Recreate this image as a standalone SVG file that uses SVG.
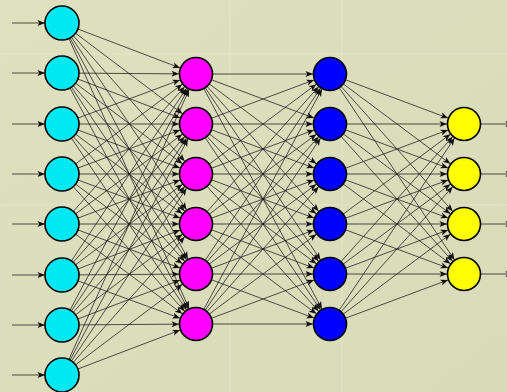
<svg xmlns="http://www.w3.org/2000/svg" width="507" height="392" viewBox="0 0 507 392">
<defs>
<marker id="ah" markerUnits="userSpaceOnUse" markerWidth="30" markerHeight="8" refX="24.5" refY="3" orient="auto" overflow="visible">
<path d="M0,0 L7.5,3 L0,6 L1.8,3 Z" fill="#111"/>
</marker>
<linearGradient id="bg" x1="0" y1="0" x2="1" y2="1">
<stop offset="0" stop-color="#dee0bf"/>
<stop offset="1" stop-color="#d8dbb8"/>
</linearGradient>
</defs>
<style>
.e{stroke:#1a1a1a;stroke-width:0.75;fill:none;marker-end:url(#ah)}
.n{stroke:#000;stroke-width:1.6}
.i{fill:#00e8f2}.h{fill:#ff00ff}.b{fill:#0000ff}.o{fill:#ffff00}
.g{stroke:#e4e6ca;stroke-width:2;opacity:0.45}
</style>
<rect width="507" height="392" fill="url(#bg)"/>
<g id="texture">
<line class="g" x1="0" y1="54" x2="507" y2="54"/>
<line class="g" x1="230" y1="0" x2="230" y2="392"/>
<line class="g" x1="342" y1="0" x2="342" y2="392"/>
<line class="g" x1="0" y1="205" x2="507" y2="205"/>
</g>
<g id="connectors">
<line class="e" x1="12" y1="23" x2="62" y2="23"/>
<line class="e" x1="12" y1="73" x2="62" y2="73"/>
<line class="e" x1="12" y1="124" x2="62" y2="124"/>
<line class="e" x1="12" y1="174" x2="62" y2="174"/>
<line class="e" x1="12" y1="224" x2="62" y2="224"/>
<line class="e" x1="12" y1="275" x2="62" y2="275"/>
<line class="e" x1="12" y1="325" x2="62" y2="325"/>
<line class="e" x1="12" y1="375" x2="62" y2="375"/>

<line class="e" x1="62" y1="23" x2="196" y2="74"/><line class="e" x1="62" y1="23" x2="196" y2="124"/><line class="e" x1="62" y1="23" x2="196" y2="174"/><line class="e" x1="62" y1="23" x2="196" y2="224"/><line class="e" x1="62" y1="23" x2="196" y2="274"/><line class="e" x1="62" y1="23" x2="196" y2="324"/>
<line class="e" x1="62" y1="73" x2="196" y2="74"/><line class="e" x1="62" y1="73" x2="196" y2="124"/><line class="e" x1="62" y1="73" x2="196" y2="174"/><line class="e" x1="62" y1="73" x2="196" y2="224"/><line class="e" x1="62" y1="73" x2="196" y2="274"/><line class="e" x1="62" y1="73" x2="196" y2="324"/>
<line class="e" x1="62" y1="124" x2="196" y2="74"/><line class="e" x1="62" y1="124" x2="196" y2="124"/><line class="e" x1="62" y1="124" x2="196" y2="174"/><line class="e" x1="62" y1="124" x2="196" y2="224"/><line class="e" x1="62" y1="124" x2="196" y2="274"/><line class="e" x1="62" y1="124" x2="196" y2="324"/>
<line class="e" x1="62" y1="174" x2="196" y2="74"/><line class="e" x1="62" y1="174" x2="196" y2="124"/><line class="e" x1="62" y1="174" x2="196" y2="174"/><line class="e" x1="62" y1="174" x2="196" y2="224"/><line class="e" x1="62" y1="174" x2="196" y2="274"/><line class="e" x1="62" y1="174" x2="196" y2="324"/>
<line class="e" x1="62" y1="224" x2="196" y2="74"/><line class="e" x1="62" y1="224" x2="196" y2="124"/><line class="e" x1="62" y1="224" x2="196" y2="174"/><line class="e" x1="62" y1="224" x2="196" y2="224"/><line class="e" x1="62" y1="224" x2="196" y2="274"/><line class="e" x1="62" y1="224" x2="196" y2="324"/>
<line class="e" x1="62" y1="275" x2="196" y2="74"/><line class="e" x1="62" y1="275" x2="196" y2="124"/><line class="e" x1="62" y1="275" x2="196" y2="174"/><line class="e" x1="62" y1="275" x2="196" y2="224"/><line class="e" x1="62" y1="275" x2="196" y2="274"/><line class="e" x1="62" y1="275" x2="196" y2="324"/>
<line class="e" x1="62" y1="325" x2="196" y2="74"/><line class="e" x1="62" y1="325" x2="196" y2="124"/><line class="e" x1="62" y1="325" x2="196" y2="174"/><line class="e" x1="62" y1="325" x2="196" y2="224"/><line class="e" x1="62" y1="325" x2="196" y2="274"/><line class="e" x1="62" y1="325" x2="196" y2="324"/>
<line class="e" x1="62" y1="375" x2="196" y2="74"/><line class="e" x1="62" y1="375" x2="196" y2="124"/><line class="e" x1="62" y1="375" x2="196" y2="174"/><line class="e" x1="62" y1="375" x2="196" y2="224"/><line class="e" x1="62" y1="375" x2="196" y2="274"/><line class="e" x1="62" y1="375" x2="196" y2="324"/>

<line class="e" x1="196" y1="74" x2="330" y2="74"/><line class="e" x1="196" y1="74" x2="330" y2="124"/><line class="e" x1="196" y1="74" x2="330" y2="174"/><line class="e" x1="196" y1="74" x2="330" y2="224"/><line class="e" x1="196" y1="74" x2="330" y2="274"/><line class="e" x1="196" y1="74" x2="330" y2="324"/>
<line class="e" x1="196" y1="124" x2="330" y2="74"/><line class="e" x1="196" y1="124" x2="330" y2="124"/><line class="e" x1="196" y1="124" x2="330" y2="174"/><line class="e" x1="196" y1="124" x2="330" y2="224"/><line class="e" x1="196" y1="124" x2="330" y2="274"/><line class="e" x1="196" y1="124" x2="330" y2="324"/>
<line class="e" x1="196" y1="174" x2="330" y2="74"/><line class="e" x1="196" y1="174" x2="330" y2="124"/><line class="e" x1="196" y1="174" x2="330" y2="174"/><line class="e" x1="196" y1="174" x2="330" y2="224"/><line class="e" x1="196" y1="174" x2="330" y2="274"/><line class="e" x1="196" y1="174" x2="330" y2="324"/>
<line class="e" x1="196" y1="224" x2="330" y2="74"/><line class="e" x1="196" y1="224" x2="330" y2="124"/><line class="e" x1="196" y1="224" x2="330" y2="174"/><line class="e" x1="196" y1="224" x2="330" y2="224"/><line class="e" x1="196" y1="224" x2="330" y2="274"/><line class="e" x1="196" y1="224" x2="330" y2="324"/>
<line class="e" x1="196" y1="274" x2="330" y2="74"/><line class="e" x1="196" y1="274" x2="330" y2="124"/><line class="e" x1="196" y1="274" x2="330" y2="174"/><line class="e" x1="196" y1="274" x2="330" y2="224"/><line class="e" x1="196" y1="274" x2="330" y2="274"/><line class="e" x1="196" y1="274" x2="330" y2="324"/>
<line class="e" x1="196" y1="324" x2="330" y2="74"/><line class="e" x1="196" y1="324" x2="330" y2="124"/><line class="e" x1="196" y1="324" x2="330" y2="174"/><line class="e" x1="196" y1="324" x2="330" y2="224"/><line class="e" x1="196" y1="324" x2="330" y2="274"/><line class="e" x1="196" y1="324" x2="330" y2="324"/>

<line class="e" x1="330" y1="74" x2="464" y2="124"/><line class="e" x1="330" y1="74" x2="464" y2="174"/><line class="e" x1="330" y1="74" x2="464" y2="224"/><line class="e" x1="330" y1="74" x2="464" y2="274"/>
<line class="e" x1="330" y1="124" x2="464" y2="124"/><line class="e" x1="330" y1="124" x2="464" y2="174"/><line class="e" x1="330" y1="124" x2="464" y2="224"/><line class="e" x1="330" y1="124" x2="464" y2="274"/>
<line class="e" x1="330" y1="174" x2="464" y2="124"/><line class="e" x1="330" y1="174" x2="464" y2="174"/><line class="e" x1="330" y1="174" x2="464" y2="224"/><line class="e" x1="330" y1="174" x2="464" y2="274"/>
<line class="e" x1="330" y1="224" x2="464" y2="124"/><line class="e" x1="330" y1="224" x2="464" y2="174"/><line class="e" x1="330" y1="224" x2="464" y2="224"/><line class="e" x1="330" y1="224" x2="464" y2="274"/>
<line class="e" x1="330" y1="274" x2="464" y2="124"/><line class="e" x1="330" y1="274" x2="464" y2="174"/><line class="e" x1="330" y1="274" x2="464" y2="224"/><line class="e" x1="330" y1="274" x2="464" y2="274"/>
<line class="e" x1="330" y1="324" x2="464" y2="124"/><line class="e" x1="330" y1="324" x2="464" y2="174"/><line class="e" x1="330" y1="324" x2="464" y2="224"/><line class="e" x1="330" y1="324" x2="464" y2="274"/>

<line class="e" x1="464" y1="124" x2="530" y2="124"/>
<line class="e" x1="464" y1="174" x2="530" y2="174"/>
<line class="e" x1="464" y1="224" x2="530" y2="224"/>
<line class="e" x1="464" y1="274" x2="530" y2="274"/>
</g>
<g id="in1"><circle class="n i" cx="62" cy="23" r="17"/></g>
<g id="in2"><circle class="n i" cx="62" cy="73" r="17"/></g>
<g id="in3"><circle class="n i" cx="62" cy="124" r="17"/></g>
<g id="in4"><circle class="n i" cx="62" cy="174" r="17"/></g>
<g id="in5"><circle class="n i" cx="62" cy="224" r="17"/></g>
<g id="in6"><circle class="n i" cx="62" cy="275" r="17"/></g>
<g id="in7"><circle class="n i" cx="62" cy="325" r="17"/></g>
<g id="in8"><circle class="n i" cx="62" cy="375" r="17"/></g>
<g id="h1_1"><circle class="n h" cx="196" cy="74" r="16.5"/></g>
<g id="h1_2"><circle class="n h" cx="196" cy="124" r="16.5"/></g>
<g id="h1_3"><circle class="n h" cx="196" cy="174" r="16.5"/></g>
<g id="h1_4"><circle class="n h" cx="196" cy="224" r="16.5"/></g>
<g id="h1_5"><circle class="n h" cx="196" cy="274" r="16.5"/></g>
<g id="h1_6"><circle class="n h" cx="196" cy="324" r="16.5"/></g>
<g id="h2_1"><circle class="n b" cx="330" cy="74" r="16.5"/></g>
<g id="h2_2"><circle class="n b" cx="330" cy="124" r="16.5"/></g>
<g id="h2_3"><circle class="n b" cx="330" cy="174" r="16.5"/></g>
<g id="h2_4"><circle class="n b" cx="330" cy="224" r="16.5"/></g>
<g id="h2_5"><circle class="n b" cx="330" cy="274" r="16.5"/></g>
<g id="h2_6"><circle class="n b" cx="330" cy="324" r="16.5"/></g>
<g id="out1"><circle class="n o" cx="464" cy="124" r="16.5"/></g>
<g id="out2"><circle class="n o" cx="464" cy="174" r="16.5"/></g>
<g id="out3"><circle class="n o" cx="464" cy="224" r="16.5"/></g>
<g id="out4"><circle class="n o" cx="464" cy="274" r="16.5"/></g>
</svg>
